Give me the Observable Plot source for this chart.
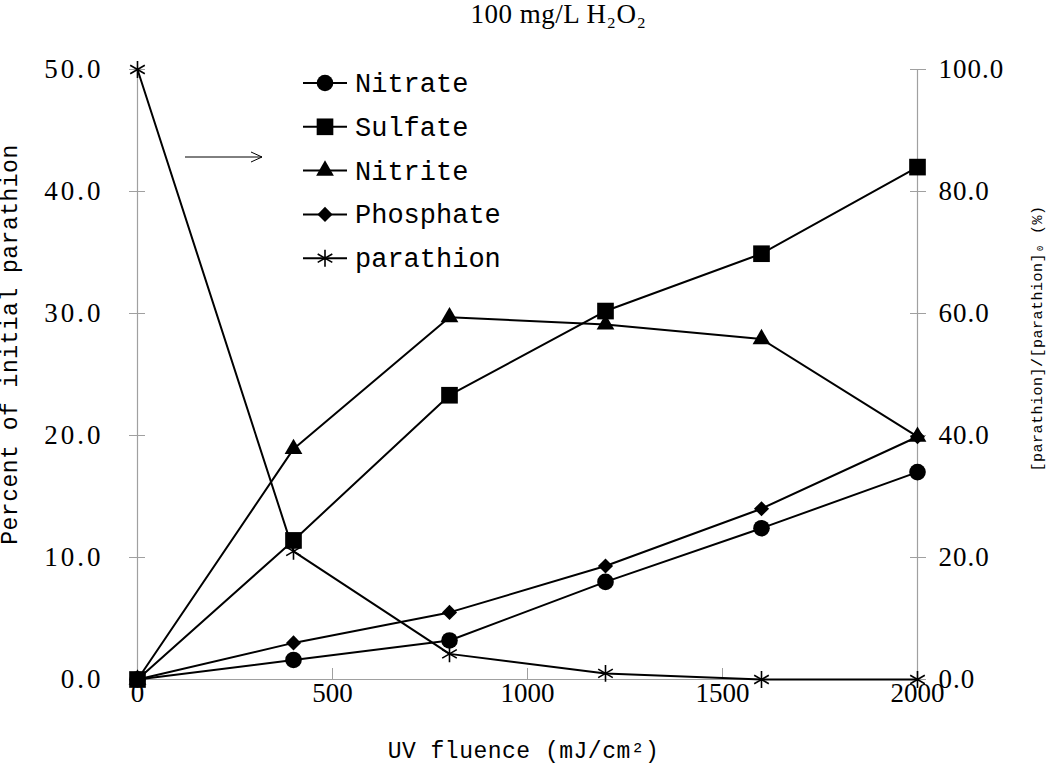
<!DOCTYPE html>
<html>
<head>
<meta charset="utf-8">
<script src="https://cdn.jsdelivr.net/npm/d3@7"></script>
<script src="https://cdn.jsdelivr.net/npm/@observablehq/plot@0.6"></script>
<style>
  html, body { margin: 0; padding: 0; background: white; }
  #chart { width: 1050px; height: 773px; }
</style>
</head>
<body>
<div id="chart"></div>
<script>
// ---- data ----
const fluence = [0, 400, 800, 1200, 1600, 2000];
const nitrate = [0, 1.6, 3.2, 8.0, 12.4, 17.0];
const sulfate = [0, 11.4, 23.3, 30.2, 34.9, 42.0];
const nitrite = [0, 18.9, 29.7, 29.1, 27.9, 19.9];
const phosphate = [0, 3.0, 5.5, 9.3, 14.0, 19.9];
const parathion = [100, 21.0, 4.2, 1.0, 0, 0]; // right axis, % of initial

const seriesNames = ["Nitrate", "Sulfate", "Nitrite", "Phosphate", "parathion"];
const seriesSymbols = ["circle", "square", "triangle", "diamond2", "asterisk"];
const seriesRadius = [8.3, 9.4, 6.6, 6.8, 8];

const xTicks = [0, 500, 1000, 1500, 2000];
const yTicks = [0, 10, 20, 30, 40, 50];
const leftTickLabels = ["0.0", "10.0", "20.0", "30.0", "40.0", "50.0"];
const rightTickLabels = ["0.0", "20.0", "40.0", "60.0", "80.0", "100.0"];

const titleText = "100 mg/L H\u2082O\u2082";
const xTitle = "UV fluence (mJ/cm\u00B2)";
const yLeftTitle = "Percent of initial parathion";
const yRightTitle = "[parathion]/[parathion]\u2080 (%)";

// ---- table ----
const leftSeries = [nitrate, sulfate, nitrite, phosphate];
const rows = [];
leftSeries.forEach((vals, s) => {
  fluence.forEach((x, i) => rows.push({series: seriesNames[s], x, y: vals[i]}));
});
// parathion is read on the right axis (0–100), which maps onto the left axis (0–50)
fluence.forEach((x, i) => rows.push({series: "parathion", x, y: parathion[i] / 2}));

const SERIF = "Liberation Serif";
const MONO = "Liberation Mono";
const axisColor = "#a0a0a0";

const dotMarks = seriesNames.map((name, s) => Plot.dot(rows.filter(d => d.series === name), {
  x: "x", y: "y",
  symbol: seriesSymbols[s],
  r: seriesRadius[s],
  fill: seriesSymbols[s] === "asterisk" ? "none" : "black",
  stroke: "black",
  strokeWidth: seriesSymbols[s] === "asterisk" ? 1.6 : 0
}));

const chart = Plot.plot({
  width: 1050,
  height: 773,
  marginTop: 69,
  marginBottom: 94,
  marginLeft: 137,
  marginRight: 133,
  style: {fontFamily: SERIF, background: "white", color: "black", overflow: "visible"},
  x: {domain: [0, 2000]},
  y: {domain: [0, 50]},
  marks: [
    Plot.ruleX([0, 2000], {stroke: axisColor, strokeWidth: 1.2}),
    Plot.ruleY([0], {stroke: axisColor, strokeWidth: 1.2}),
    Plot.axisX({
      ticks: xTicks, tickSize: -11, tickPadding: 14, tickFormat: d => String(d),
      fontSize: 27, stroke: axisColor, label: null
    }),
    Plot.axisY({
      anchor: "left", ticks: yTicks, tickSize: 16, dx: 8, tickPadding: 26,
      tickFormat: (d, i) => leftTickLabels[i], fontSize: 27, stroke: axisColor, label: null
    }),
    Plot.axisY({
      anchor: "right", ticks: yTicks, tickSize: 16, dx: -8, tickPadding: 13,
      tickFormat: (d, i) => rightTickLabels[i], fontSize: 27, stroke: axisColor, label: null
    }),
    Plot.line(rows, {x: "x", y: "y", z: "series", stroke: "black", strokeWidth: 2}),
    ...dotMarks,
    Plot.text([xTitle], {text: d => d, frameAnchor: "bottom", textAnchor: "middle", lineAnchor: "middle",
      dx: -4, dy: 71, fontSize: 23, fontFamily: MONO}),
    Plot.text([yLeftTitle], {text: d => d, frameAnchor: "left", textAnchor: "middle", lineAnchor: "middle",
      dx: -128, dy: -30, rotate: -90, fontSize: 23, fontFamily: MONO}),
    Plot.text([yRightTitle], {text: d => d, frameAnchor: "right", textAnchor: "middle", lineAnchor: "middle",
      dx: 120, dy: -36, rotate: -90, fontSize: 15, fontFamily: MONO}),
    Plot.text([titleText], {text: d => d, frameAnchor: "top", textAnchor: "middle", lineAnchor: "middle",
      dx: 31, dy: -55, fontSize: 27})
  ]
});

document.getElementById("chart").appendChild(chart);

// letter spacing of the y tick labels (the reference font is wider)
const svg = d3.select(chart);
svg.selectAll('g[aria-label="y-axis tick label"]').each(function(d, i) {
  d3.select(this).attr("letter-spacing", i === 0 ? "3px" : "1px");
});
svg.selectAll('g[aria-label="text"]').attr("letter-spacing", "0.5px");

// ---- legend and annotation arrow ----
const legend = svg.append("g").attr("font-family", MONO).attr("font-size", 27).attr("text-anchor", "start");
const legendX = 303, legendY0 = 83, legendStep = 43.8;
seriesNames.forEach((name, i) => {
  const y = legendY0 + i * legendStep;
  const g = legend.append("g").attr("transform", `translate(${legendX},${y})`);
  g.append("line").attr("x1", 0).attr("x2", 44).attr("stroke", "black").attr("stroke-width", 2);
  const sym = {circle: d3.symbolCircle, square: d3.symbolSquare, triangle: d3.symbolTriangle,
               diamond2: d3.symbolDiamond2, asterisk: d3.symbolAsterisk}[seriesSymbols[i]];
  const size = Math.PI * seriesRadius[i] * seriesRadius[i];
  g.append("path")
    .attr("transform", "translate(22,0)")
    .attr("d", d3.symbol(sym, size)())
    .attr("fill", seriesSymbols[i] === "asterisk" ? "none" : "black")
    .attr("stroke", "black")
    .attr("stroke-width", seriesSymbols[i] === "asterisk" ? 1.6 : 0);
  g.append("text").attr("x", 52).attr("y", 9).text(name);
});

const arrow = svg.append("g").attr("stroke", "black").attr("stroke-width", 1).attr("fill", "none");
arrow.append("line").attr("x1", 185).attr("y1", 157).attr("x2", 262).attr("y2", 157);
arrow.append("path").attr("d", "M251,152 L262,157 L251,162");
</script>
</body>
</html>
